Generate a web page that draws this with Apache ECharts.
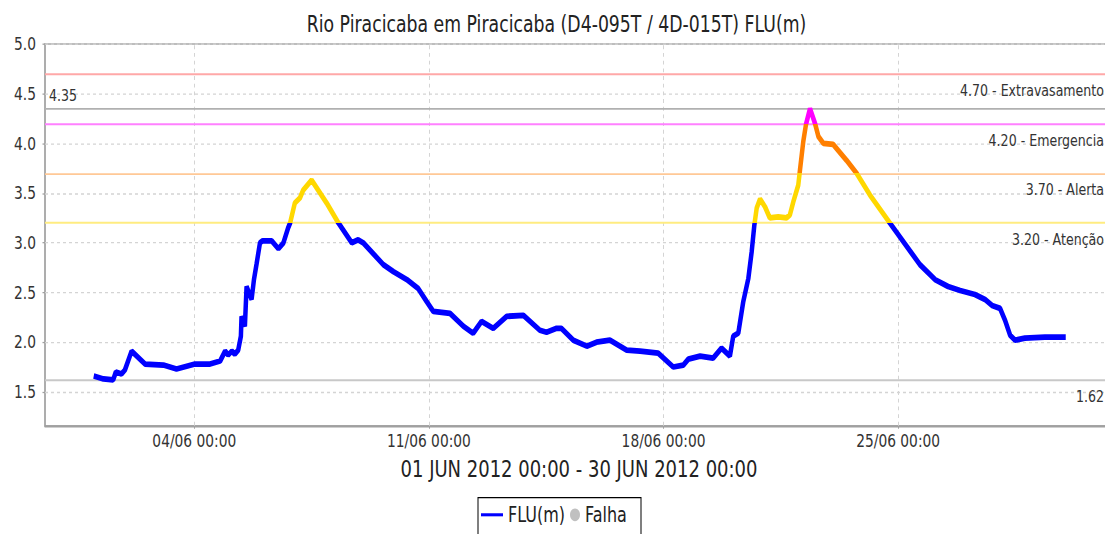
<!DOCTYPE html>
<html>
<head>
<meta charset="utf-8">
<script src="https://cdn.jsdelivr.net/npm/echarts@6/dist/echarts.min.js"></script>
<style>
  html, body { margin: 0; padding: 0; overflow: hidden; background: #fff; width: 1105px; height: 534px; }
  /* chart is laid out at 1113x417 and stretched vertically to fill 534px */
  #chart { width: 1113px; height: 417px; transform: scaleY(1.28058); transform-origin: 0 0; }
</style>
</head>
<body>
<div id="chart"></div>
<script>
// River level, days counted from 01/06/2012 00:00
const flowDays = [
  0.00, 0.29, 0.58, 0.66, 0.83, 0.93, 1.13, 1.53, 2.08, 2.47, 3.02, 3.47, 3.77, 3.92, 4.01, 4.12,
  4.21, 4.31, 4.39, 4.41, 4.51, 4.56, 4.71, 4.78, 4.86, 4.96, 5.04, 5.31, 5.51, 5.66, 5.80, 5.86,
  6.00, 6.15, 6.25, 6.50, 6.95, 7.30, 7.70, 7.89, 8.04, 8.64, 8.94, 9.34, 9.68, 9.93, 10.13, 10.63,
  11.03, 11.32, 11.57, 11.92, 12.32, 12.82, 13.31, 13.51, 13.81, 13.95, 14.31, 14.71, 15.00, 15.40,
  15.90, 16.30, 16.84, 17.29, 17.59, 17.74, 18.09, 18.48, 18.73, 18.98, 19.08, 19.23, 19.38, 19.53,
  19.63, 19.71, 19.78, 19.88, 20.03, 20.17, 20.42, 20.67, 20.77, 20.87, 21.02, 21.07, 21.17, 21.25,
  21.37, 21.52, 21.62, 21.77, 22.06, 22.21, 22.46, 22.76, 23.16, 23.75, 24.65, 25.10, 25.49, 25.85,
  26.29, 26.59, 26.80, 27.04, 27.19, 27.34, 27.49, 27.78, 28.38, 29.00
];
const flowLevels = [
  1.66, 1.63, 1.62, 1.70, 1.68, 1.72, 1.91, 1.78, 1.77, 1.73, 1.78, 1.78, 1.81, 1.91, 1.87, 1.91,
  1.88, 1.92, 2.06, 2.26, 2.16, 2.56, 2.43, 2.63, 2.79, 3.00, 3.02, 3.02, 2.94, 3.00, 3.15, 3.20,
  3.40, 3.45, 3.53, 3.63, 3.40, 3.20, 3.00, 3.03, 3.00, 2.78, 2.71, 2.63, 2.54, 2.41, 2.31, 2.29,
  2.16, 2.09, 2.21, 2.14, 2.26, 2.27, 2.12, 2.10, 2.14, 2.14, 2.02, 1.96, 2.00, 2.02,
  1.92, 1.91, 1.89, 1.75, 1.77, 1.83, 1.86, 1.84, 1.94, 1.86, 2.06, 2.09, 2.41, 2.64,
  2.91, 3.18, 3.35, 3.44, 3.36, 3.25, 3.26, 3.25, 3.28, 3.41, 3.58, 3.73, 4.02, 4.19,
  4.35, 4.20, 4.07, 4.00, 3.99, 3.93, 3.83, 3.70, 3.48, 3.20, 2.78, 2.63, 2.56, 2.52,
  2.48, 2.43, 2.37, 2.34, 2.22, 2.07, 2.02, 2.04, 2.05, 2.05
];

// alarm levels
const thresholdValues = [4.70, 4.20, 3.70, 3.20];
const thresholdNames = ['Extravasamento', 'Emergencia', 'Alerta', 'Atenção'];
const thresholdColors = ['#ffa8a8', '#ff80ff', '#ffc896', '#ffec80'];
const levelColors = ['#0000ff', '#ffd800', '#ff7f00', '#ff00ff']; // below 3.20, 3.20-3.70, 3.70-4.20, above 4.20

// axis ticks
const yTicks = [1.5, 2.0, 2.5, 3.0, 3.5, 4.0, 4.5, 5.0];
const xTickDays = [3, 10, 17, 24];
const xTickLabels = ['04/06 00:00', '11/06 00:00', '18/06 00:00', '25/06 00:00'];

const FONT = 'DejaVu Sans';
const maxLevel = Math.max(...flowLevels);
const minLevel = Math.min(...flowLevels);

const chart = echarts.init(document.getElementById('chart'), null, { renderer: 'svg' });

// dashed grid lines at the labelled ticks only
const gridLineStyle = { color: '#d4d4d4', width: 1, type: [3, 3] };
const gridLines = [
  ...yTicks.map(v => ({ yAxis: v, lineStyle: gridLineStyle, label: { show: false } })),
  ...xTickDays.map(d => ({ xAxis: d, lineStyle: gridLineStyle, label: { show: false } }))
];

const levelLines = thresholdValues.map((v, i) => ({
  yAxis: v,
  lineStyle: { color: thresholdColors[i], width: 1.5, type: 'solid' },
  label: {
    position: 'insideEndBottom',
    distance: [9, 6.5],
    formatter: v.toFixed(2) + ' - ' + thresholdNames[i]
  }
}));
levelLines.push({
  yAxis: maxLevel,
  lineStyle: { color: '#b0b0b0', width: 1.5, type: 'solid' },
  label: { position: 'insideStartTop', distance: [4, 3.5], formatter: maxLevel.toFixed(2) }
});
levelLines.push({
  yAxis: minLevel,
  lineStyle: { color: '#c8c8c8', width: 1.5, type: 'solid' },
  label: { position: 'insideEndBottom', distance: [9, 6.5], formatter: minLevel.toFixed(2) }
});

chart.setOption({
  animation: false,
  backgroundColor: '#ffffff',
  title: {
    text: 'Rio Piracicaba em Piracicaba (D4-095T / 4D-015T) FLU(m)',
    left: 'center',
    top: 6,
    textStyle: { fontFamily: FONT, fontSize: 17.3, fontWeight: 'normal', color: '#222' }
  },
  grid: {
    left: 45, top: 34.36, right: 0, bottom: 84.6,
    show: true, borderColor: '#a8a8a8', borderWidth: 1, backgroundColor: '#ffffff'
  },
  xAxis: {
    type: 'value',
    min: -1.454,
    max: 30.41,
    name: '01 JUN 2012 00:00 - 30 JUN 2012 00:00',
    nameLocation: 'middle',
    nameGap: 25,
    nameTextStyle: { fontFamily: FONT, fontSize: 18, color: '#222' },
    axisLine: { onZero: false, lineStyle: { color: '#a0a0a0', width: 1.5 } },
    axisTick: { show: true, length: 2.5, customValues: xTickDays, lineStyle: { color: '#a0a0a0' } },
    axisLabel: {
      customValues: xTickDays,
      margin: 5,
      fontFamily: FONT, fontSize: 13.8, color: '#333',
      formatter: v => xTickLabels[xTickDays.indexOf(v)] || ''
    },
    splitLine: { show: false }
  },
  yAxis: {
    type: 'value',
    min: 1.16,
    max: 5.0,
    axisLine: { show: true, onZero: false, lineStyle: { color: '#a0a0a0', width: 1.5 } },
    axisTick: { show: true, length: 2.5, customValues: yTicks, lineStyle: { color: '#a0a0a0' } },
    axisLabel: {
      customValues: yTicks,
      margin: 9,
      fontFamily: FONT, fontSize: 13.8, color: '#333',
      formatter: v => v.toFixed(1)
    },
    splitLine: { show: false }
  },
  visualMap: {
    show: false,
    type: 'piecewise',
    seriesIndex: 0,
    dimension: 1,
    pieces: [
      { lt: thresholdValues[3], color: levelColors[0] },
      { gte: thresholdValues[3], lt: thresholdValues[2], color: levelColors[1] },
      { gte: thresholdValues[2], lt: thresholdValues[1], color: levelColors[2] },
      { gte: thresholdValues[1], color: levelColors[3] }
    ]
  },
  legend: [
    {
      data: [{ name: 'FLU(m)', icon: 'rect' }],
      left: 481, top: 394,
      padding: 0,
      itemWidth: 22, itemHeight: 2.4,
      selectedMode: false,
      textStyle: { fontFamily: FONT, fontSize: 16, color: '#222' }
    },
    {
      data: [{ name: 'Falha', icon: 'circle' }],
      left: 570, top: 394,
      padding: 0,
      itemWidth: 10, itemHeight: 10,
      selectedMode: false,
      textStyle: { fontFamily: FONT, fontSize: 16, color: '#222' }
    }
  ],
  graphic: [{
    type: 'rect',
    shape: { x: 478, y: 388.6, width: 163, height: 40 },
    style: { fill: 'none', stroke: '#000', lineWidth: 1 },
    silent: true
  }],
  series: [
    {
      name: 'FLU(m)',
      type: 'line',
      data: flowDays.map((d, i) => [d, flowLevels[i]]),
      symbol: 'none',
      color: '#0000ff',
      lineStyle: { width: 4.5 },
      z: 5
    },
    {
      name: 'Falha',
      type: 'line',
      data: [],
      color: '#c0c0c0',
      z: 1
    },
    {
      type: 'line',
      data: [],
      z: 1,
      markLine: {
        silent: true,
        symbol: 'none',
        data: gridLines
      }
    },
    {
      type: 'line',
      data: [],
      z: 2,
      markLine: {
        silent: true,
        symbol: 'none',
        label: { fontFamily: FONT, fontSize: 12.6, color: '#333' },
        data: levelLines
      }
    }
  ]
});
</script>
</body>
</html>
